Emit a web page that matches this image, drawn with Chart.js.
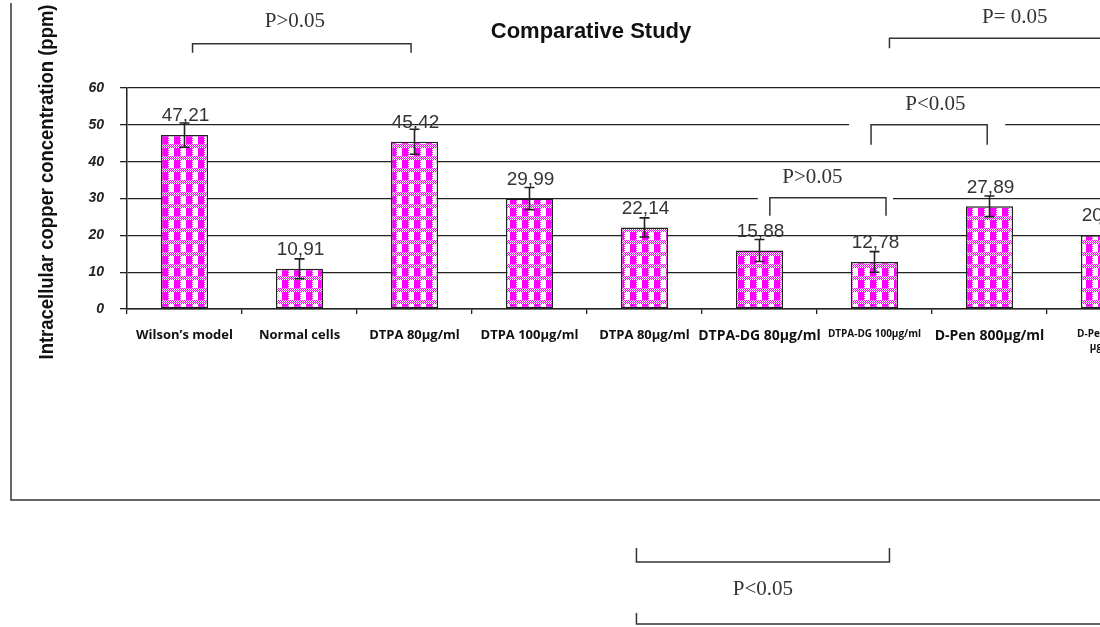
<!DOCTYPE html>
<html>
<head>
<meta charset="utf-8">
<script src="https://cdn.jsdelivr.net/npm/chart.js@4.4.0/dist/chart.umd.min.js"></script>
<style>
  html, body { margin: 0; padding: 0; background: #fff; overflow: hidden; width: 1100px; height: 627px; }
  #wrap { position: relative; width: 1240px; height: 627px; }
</style>
</head>
<body>
<div id="wrap"><canvas id="c" width="1240" height="627"></canvas></div>
<script>
// Groups compared
const categories = [
  'Wilson’s model', 'Normal cells', 'DTPA 80µg/ml', 'DTPA 100µg/ml', 'DTPA 80µg/ml',
  'DTPA-DG 80µg/ml', 'DTPA-DG 100µg/ml', 'D-Pen 800µg/ml', ['D-Pen 1000', 'µg/ml']
];
// Mean intracellular copper (ppm) and its error (± ppm)
const copperPpm = [47.21, 10.91, 45.42, 29.99, 22.14, 15.88, 12.78, 27.89, 20.05];
const errorPpm  = [3.3, 2.7, 3.4, 3.0, 2.6, 3.0, 2.8, 2.8, 3.2];
const valueLabels = copperPpm.map(v => v.toFixed(2).replace('.', ','));
const yTicks = [0, 10, 20, 30, 40, 50, 60];

// Significance comparisons: category span (index units) and level (ppm)
const comparisons = [
  { text: 'P>0.05',  from: 0.07, to: 1.97, level: 72.0 },
  { text: 'P= 0.05', from: 6.13, to: 9.60, level: 73.5 },
  { text: 'P<0.05',  from: 5.97, to: 6.98, level: 50.0 },
  { text: 'P>0.05',  from: 5.09, to: 6.10, level: 30.2 },
  { text: 'P<0.05',  from: 3.93, to: 6.13, level: -68.7 },
  { text: '',        from: 3.93, to: 9.60, level: -85.5 }
];
// Drawing style for each comparison bracket
const bracketStyle = [
  { drop: 9,   labelAt: 0.96, labelDy: -22, gapL: 0,  gapR: 0 },
  { drop: 10,  labelAt: 7.22, labelDy: -21, gapL: 0,  gapR: 0 },
  { drop: 20,  labelAt: 6.53, labelDy: -20, gapL: 22, gapR: 18 },
  { drop: 18,  labelAt: 5.46, labelDy: -20, gapL: 12, gapR: 7 },
  { drop: -14, labelAt: 5.03, labelDy: 27,  gapL: 0,  gapR: 0 },
  { drop: -11, labelAt: 0,    labelDy: 0,   gapL: 0,  gapR: 0 }
];

const INK = '#222';

// Gingham-like fill used for the bars: dotted pink band, then a row of
// white and magenta squares
function makePattern() {
  const p = document.createElement('canvas');
  p.width = 12; p.height = 12;
  const g = p.getContext('2d');
  g.fillStyle = '#fff';
  g.fillRect(0, 0, 12, 12);
  g.fillStyle = '#ff00ff';
  for (let y = 0; y < 4; y++) {
    for (let x = 0; x < 12; x++) {
      if ((x + y) % 2 === 0) g.fillRect(x, y, 1, 1);
    }
  }
  g.fillRect(6, 4, 6, 8);
  for (let y = 4; y < 12; y++) {
    if (y % 2 === 0) g.fillRect(0, y, 1, 1);
  }
  return g.createPattern(p, 'repeat');
}

const labelFontSize = [13, 13, 13, 13, 13, 14, 10, 14, 10];

const overlay = {
  id: 'overlay',
  beforeDatasetsDraw(chart) {
    const { ctx, scales: { x, y } } = chart;
    ctx.save();
    ctx.fillStyle = '#fff';
    comparisons.forEach((c, i) => {
      const s = bracketStyle[i];
      if (!s.gapL && !s.gapR) return;
      const x0 = x.getPixelForValue(c.from) - s.gapL;
      const x1 = x.getPixelForValue(c.to) + s.gapR;
      const yy = y.getPixelForValue(c.level);
      ctx.fillRect(x0, yy - 5, x1 - x0, 10);
    });
    ctx.restore();
  },
  afterDatasetsDraw(chart) {
    const { ctx, scales: { y } } = chart;
    const meta = chart.getDatasetMeta(0);
    ctx.save();
    // value labels
    ctx.font = '19px "Liberation Sans", Arial, sans-serif';
    ctx.fillStyle = '#333';
    ctx.textAlign = 'center';
    ctx.textBaseline = 'middle';
    meta.data.forEach((bar, i) => {
      ctx.fillText(valueLabels[i], bar.x + 1, y.getPixelForValue(copperPpm[i]) - 19);
    });
    // error bars
    ctx.strokeStyle = INK;
    ctx.lineWidth = 1.6;
    meta.data.forEach((bar, i) => {
      const top = y.getPixelForValue(copperPpm[i] + errorPpm[i]);
      const bot = y.getPixelForValue(copperPpm[i] - errorPpm[i]);
      ctx.beginPath();
      ctx.moveTo(bar.x, top); ctx.lineTo(bar.x, bot);
      ctx.moveTo(bar.x - 5, top); ctx.lineTo(bar.x + 5, top);
      ctx.moveTo(bar.x - 5, bot); ctx.lineTo(bar.x + 5, bot);
      ctx.stroke();
    });
    ctx.restore();
  },
  afterDraw(chart) {
    const { ctx, scales: { x, y } } = chart;
    ctx.save();
    // frame
    ctx.strokeStyle = '#333';
    ctx.lineWidth = 1.5;
    ctx.beginPath();
    ctx.moveTo(11, 3); ctx.lineTo(11, 500); ctx.lineTo(chart.width, 500);
    ctx.stroke();

    // comparison brackets
    ctx.strokeStyle = '#333';
    ctx.lineWidth = 1.5;
    ctx.fillStyle = '#333';
    ctx.font = '21px "Liberation Serif", "Times New Roman", serif';
    ctx.textAlign = 'center';
    ctx.textBaseline = 'middle';
    comparisons.forEach((c, i) => {
      const s = bracketStyle[i];
      const x0 = x.getPixelForValue(c.from);
      const x1 = x.getPixelForValue(c.to);
      const yy = y.getPixelForValue(c.level);
      ctx.beginPath();
      ctx.moveTo(x0, yy + s.drop); ctx.lineTo(x0, yy); ctx.lineTo(x1, yy); ctx.lineTo(x1, yy + s.drop);
      ctx.stroke();
      if (c.text) ctx.fillText(c.text, x.getPixelForValue(s.labelAt), yy + s.labelDy);
    });

    // chart title
    ctx.fillStyle = '#111';
    ctx.font = 'bold 22px "Liberation Sans", Arial, sans-serif';
    ctx.fillText('Comparative Study', 591, 32);

    // vertical axis title, condensed to its column
    const yTitle = 'Intracellular copper concentration (ppm)';
    ctx.font = 'bold 21px "Liberation Sans Narrow", "Liberation Sans", Arial, sans-serif';
    const w = ctx.measureText(yTitle).width;
    ctx.translate(47, 182);
    ctx.rotate(-Math.PI / 2);
    ctx.scale(355 / w, 1);
    ctx.fillStyle = '#111';
    ctx.fillText(yTitle, 0, 0);
    ctx.restore();
  }
};

new Chart(document.getElementById('c'), {
  type: 'bar',
  data: {
    labels: categories,
    datasets: [{
      data: copperPpm,
      backgroundColor: makePattern(),
      borderColor: INK,
      borderWidth: 1.5,
      borderSkipped: false,
      barPercentage: 0.41,
      categoryPercentage: 1
    }]
  },
  options: {
    responsive: false,
    animation: false,
    events: [],
    layout: { padding: { top: 88, right: 78, bottom: 0, left: 0 } },
    plugins: { legend: { display: false }, title: { display: false }, tooltip: { enabled: false } },
    scales: {
      x: {
        offset: true,
        afterFit(s) { s.height = 318; },
        border: { display: true, color: INK, width: 1.5 },
        grid: { display: true, drawOnChartArea: false, drawTicks: true, tickLength: 5, color: INK, lineWidth: 1.3, offset: true },
        ticks: {
          autoSkip: false,
          maxRotation: 0,
          minRotation: 0,
          padding: 13,
          color: '#111',
          font: (ctx) => ({ family: '"Open Sans", "Noto Sans", sans-serif', weight: 'bold', size: labelFontSize[ctx.index] || 13, lineHeight: 1.35 })
        }
      },
      y: {
        min: 0,
        max: 60,
        afterFit(s) { s.width = 127; },
        afterBuildTicks(s) { s.ticks = yTicks.map(v => ({ value: v })); },
        border: { display: true, color: INK, width: 1.5 },
        grid: { color: INK, lineWidth: 1.3, tickLength: 7, drawTicks: true },
        ticks: {
          padding: 16,
          color: '#222',
          font: { family: '"Liberation Sans", Arial, sans-serif', style: 'italic', weight: 'bold', size: 14 }
        }
      }
    }
  },
  plugins: [overlay]
});
</script>
</body>
</html>
